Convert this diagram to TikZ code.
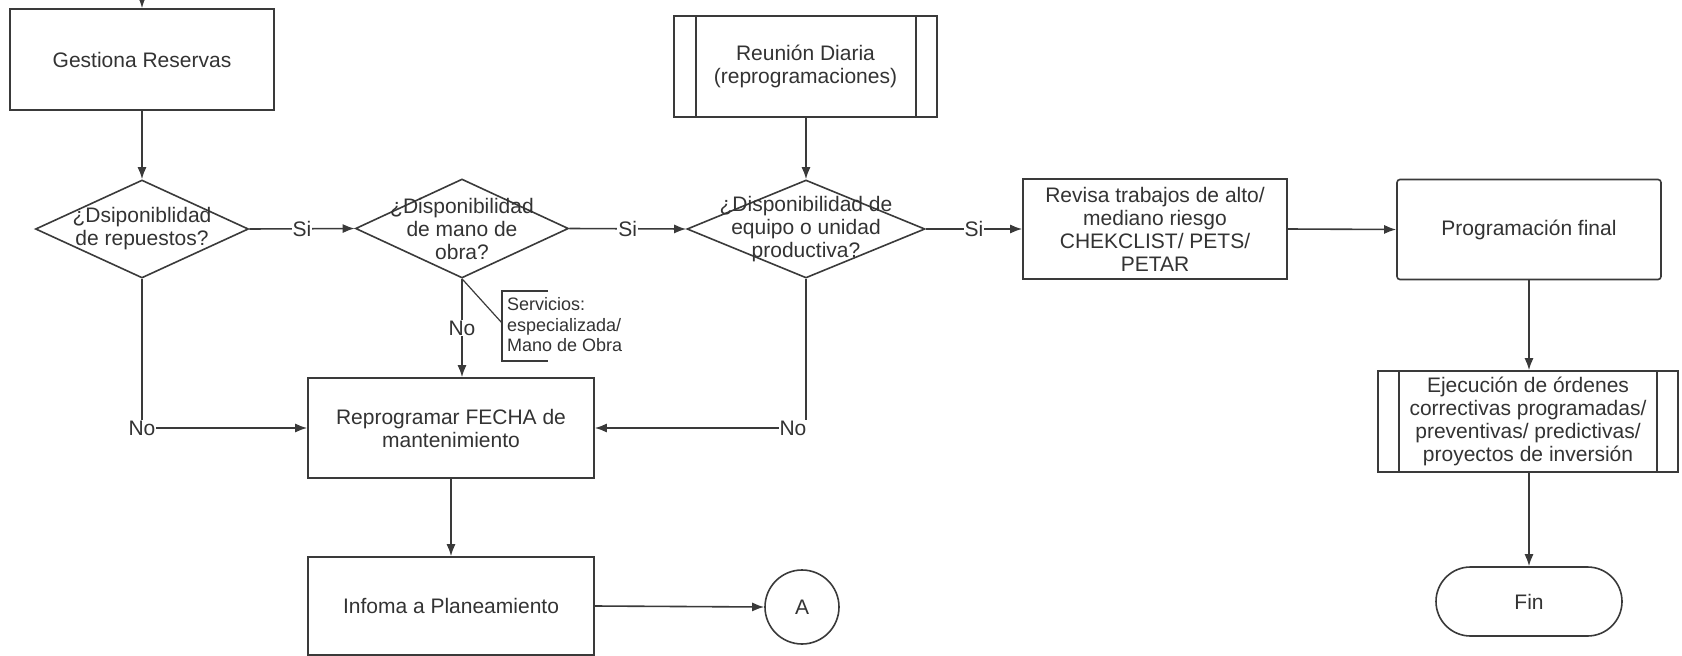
\documentclass[tikz,border=0pt]{standalone}
\usepackage{fontspec}
\setmainfont{Liberation Sans}
\usetikzlibrary{arrows.meta,shapes.geometric,shapes.misc}

\definecolor{ink}{HTML}{333333}
\definecolor{linec}{HTML}{3A3A3A}

\tikzset{
  base/.style={draw=linec, line width=1.6pt, text=ink, font=\fontsize{21}{23}\selectfont, align=center, inner sep=0pt},
  procbox/.style={base, rectangle, minimum width=#1, minimum height=100pt},
  decision/.style={draw=linec, line width=1.6pt, diamond, inner sep=0pt, aspect=2},
  dtext/.style={text=ink, font=\fontsize{21}{23}\selectfont, align=center, inner sep=0pt},
  flow/.style={draw=linec, line width=1.6pt, -{Latex[length=12pt,width=9pt]}},
  plain/.style={draw=linec, line width=1.6pt},
  lbl/.style={fill=white, text=ink, font=\fontsize{21}{23}\selectfont, inner sep=1pt},
  note/.style={text=ink, font=\fontsize{18}{20.5}\selectfont, align=left, inner sep=0pt, anchor=west},
}

\begin{document}
\begin{tikzpicture}[x=1pt, y=-1pt]
  \fill[white] (0,0) rectangle (1682,656);
  \useasboundingbox (0,0) rectangle (1682,656);

  % process boxes
  \node[procbox=264pt, minimum height=101pt] (g) at (142,59.5) {Gestiona Reservas};
  \node[procbox=263pt, minimum height=101pt] (ru) at (805.5,66.5) {Reunión Diaria\\(reprogramaciones)};
  \draw[plain] ([xshift=23pt]ru.north west) -- ([xshift=23pt]ru.south west);
  \draw[plain] ([xshift=-22pt]ru.north east) -- ([xshift=-22pt]ru.south east);

  \node[procbox=264pt] (rv) at (1155,229) {Revisa trabajos de alto/\\mediano riesgo\\CHEKCLIST/ PETS/\\PETAR};
  \node[procbox=264pt, rounded corners=3pt] (pf) at (1529,229.5) {Programación final};
  \node[procbox=300pt, minimum height=101pt] (ej) at (1528,421.5) {Ejecución de órdenes\\correctivas programadas/\\preventivas/ predictivas/\\proyectos de inversión};
  \draw[plain] ([xshift=22pt]ej.north west) -- ([xshift=22pt]ej.south west);
  \draw[plain] ([xshift=-22pt]ej.north east) -- ([xshift=-22pt]ej.south east);
  \node[base, rounded rectangle, minimum width=186pt, minimum height=69pt] (fin) at (1529,601.5) {Fin};

  \node[procbox=286pt] (rp) at (451,428) {Reprogramar FECHA de\\mantenimiento};
  \node[procbox=286pt, minimum height=98pt] (inf) at (451,606) {Infoma a Planeamiento};
  \node[base, circle, minimum size=74pt] (A) at (802,607) {A};

  % decisions
  \node[decision, minimum width=213pt, minimum height=98pt] (d1) at (142,229) {};
  \node[dtext] (t1) at (d1) {¿Dsiponiblidad\\de repuestos?};
  \node[decision, minimum width=213pt, minimum height=99pt] (d2) at (462,228.5) {};
  \node[dtext] (t2) at (d2) {¿Disponibilidad\\de mano de\\obra?};
  \node[decision, minimum width=238pt, minimum height=98pt] (d3) at (806,229) {};
  \node[dtext] (t3) at (d3) {¿Disponibilidad de\\equipo o unidad\\productiva?};

  % annotation
  \coordinate (top) at (142,-4);
  \coordinate (ann) at (502,323);
  \draw[plain] (548,291) -- (502,291) -- (502,361) -- (548,361);
  \node[note] (nt) at (507,325) {Servicios:\\especializada/\\Mano de Obra};
  \draw[plain, line width=1.2pt] (d2.south) -- (ann);

  % connectors
  \draw[flow] (top) -- (g.north);
  \draw[flow] (g.south) -- (d1.north);
  \draw[flow] (d1.east) -- node[lbl] {Si} (d2.west);
  \draw[flow] (d2.east) -- node[lbl] {Si} (d3.west);
  \draw[flow] (d3.east) -- node[lbl] {Si} (rv.west);
  \draw[flow] (ru.south -| d3.north) -- (d3.north);
  \draw[flow] (rv.east) -- (pf.west);
  \draw[flow] (pf.south) -- (pf.south |- ej.north);
  \draw[flow] (ej.south -| fin.north) -- (fin.north);
  \draw[flow] (d1.south) |- node[lbl] {No} (rp.west);
  \draw[flow] (d3.south) |- node[lbl, xshift=-13pt] {No} (rp.east);
  \draw[flow] (d2.south) -- node[lbl] {No} (d2.south |- rp.north);
  \draw[flow] (rp.south) -- (inf.north);
  \draw[flow] (inf.east) -- (A.west);
\end{tikzpicture}
\end{document}
